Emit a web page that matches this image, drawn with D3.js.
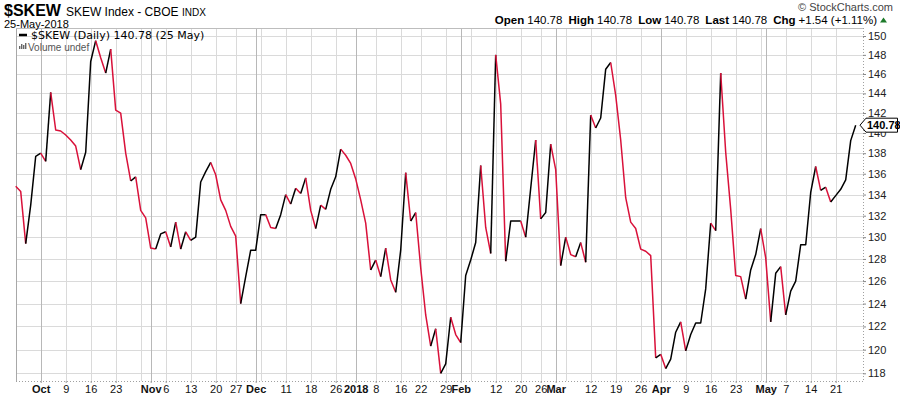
<!DOCTYPE html>
<html>
<head>
<meta charset="utf-8">
<script src="https://cdn.jsdelivr.net/npm/d3@7/dist/d3.min.js"></script>
<style>
  body { margin: 0; background: #fff; }
  svg { display: block; }
</style>
</head>
<body>
<svg id="chart"></svg>
<script>
// trading calendar
const firstDay = "2017-09-25";
const lastDay = "2018-05-25";
const holidays = ["2017-11-23", "2017-12-25", "2018-01-01", "2018-01-15", "2018-02-19", "2018-03-30"];

// $SKEW daily close
const skewValues = [
  134.8, 134.3, 129.4, 133.0, 137.7,
  138.0, 137.2, 144.1, 140.3, 140.2,
  139.8, 139.3, 138.7, 136.4, 138.1,
  147.3, 149.5, 147.7, 146.1, 148.6,
  142.3, 142.0, 138.0, 135.3, 135.7,
  132.5, 131.8, 129.0, 128.9, 130.3,
  130.5, 129.1, 131.4, 128.9, 130.5,
  129.7, 130.0, 135.2, 136.2, 137.1,
  135.9, 133.5, 132.5, 131.0,
  130.1, 124.0, 126.4, 128.8, 128.8,
  132.1, 132.1, 130.9, 130.8, 132.1,
  134.0, 133.1, 134.6, 134.1, 135.6,
  132.5, 130.8, 133.0, 132.6, 134.5,
  135.7, 138.4, 137.8, 137.0,
  135.5, 133.5, 131.3, 127.0,
  127.9, 126.4, 129.0, 126.1, 125.0,
  128.8, 136.1, 131.5, 132.3,
  127.2, 123.0, 120.3, 121.8, 118.0,
  118.8, 122.8, 121.3, 120.6, 126.5,
  127.9, 129.5, 136.8, 130.9, 128.5,
  148.0, 142.9, 127.8, 131.5, 131.5,
  131.5, 130.0, 134.6, 139.3,
  131.7, 132.3, 138.9, 136.4, 127.4,
  130.0, 128.4, 128.2, 129.5, 127.7,
  141.8, 140.5, 141.5, 146.5, 147.2,
  143.8, 139.3, 133.7, 131.4, 130.8,
  128.9, 128.7, 128.3, 119.3,
  119.6, 118.4, 119.2, 121.5, 122.4,
  119.9, 121.3, 122.3, 122.3, 125.3,
  131.3, 130.6, 146.1, 138.1, 132.6,
  126.5, 126.4, 124.4, 127.0, 128.4,
  130.8, 128.1, 122.4, 126.7, 127.3,
  123.0, 125.1, 126.0, 129.3, 129.3,
  134.2, 136.7, 134.4, 134.7, 133.3,
  133.9, 134.5, 135.4, 139.24, 140.78
];

const yTickValues = [118, 120, 122, 124, 126, 128, 130, 132, 134, 136, 138, 140, 142, 144, 146, 148, 150];

const xTickDates = [
  "2017-10-02", "2017-10-09", "2017-10-16", "2017-10-23", "2017-11-01", "2017-11-06", "2017-11-13",
  "2017-11-20", "2017-11-27", "2017-12-01", "2017-12-11", "2017-12-18", "2017-12-26", "2018-01-02",
  "2018-01-08", "2018-01-16", "2018-01-22", "2018-01-29", "2018-02-01", "2018-02-12", "2018-02-20",
  "2018-02-26", "2018-03-01", "2018-03-12", "2018-03-19", "2018-03-26", "2018-04-02", "2018-04-09",
  "2018-04-16", "2018-04-23", "2018-05-01", "2018-05-07", "2018-05-14", "2018-05-21"
];
const xTickLabels = [
  "Oct", "9", "16", "23", "Nov", "6", "13", "20", "27", "Dec", "11", "18", "26", "2018",
  "8", "16", "22", "29", "Feb", "12", "20", "26", "Mar", "12", "19", "26", "Apr", "9",
  "16", "23", "May", "7", "14", "21"
];

const width = 900, height = 396;
const plot = { left: 16, right: 863, top: 28, bottom: 381 };
const upColor = "#000000", downColor = "#d9113a";
const sans = "'Liberation Sans', Arial, sans-serif";
const verdana = "'DejaVu Sans', Verdana, sans-serif";

const fmt = d3.utcFormat("%Y-%m-%d");
const tradingDays = d3.utcDay
  .range(new Date(firstDay + "T00:00:00Z"), d3.utcDay.offset(new Date(lastDay + "T00:00:00Z"), 1))
  .filter(d => d.getUTCDay() % 6 !== 0 && !holidays.includes(fmt(d)));
const dayKeys = tradingDays.map(fmt);

const data = dayKeys.map((k, i) => ({ key: k, date: tradingDays[i], value: skewValues[i] }));

const svg = d3.select("#chart").attr("width", width).attr("height", height);

const x = d3.scalePoint().domain(dayKeys).range([15.7, 855.7]);
const y = d3.scaleLog().domain([118, 150]).range([373.3, 36]);

// grid
const grid = svg.append("g");
grid.selectAll("line.h")
  .data(yTickValues)
  .enter()
  .append("line")
  .attr("x1", plot.left).attr("x2", plot.right)
  .attr("y1", d => Math.round(y(d)) + 0.5).attr("y2", d => Math.round(y(d)) + 0.5)
  .attr("stroke", "#dadada");

// weekly and monthly vertical lines
const vLines = data.filter((d, i) => i > 0 && (
  d.date.getUTCDay() < data[i - 1].date.getUTCDay() ||
  d.date.getUTCMonth() !== data[i - 1].date.getUTCMonth()
)).map(d => {
  const idx = dayKeys.indexOf(d.key);
  return { key: d.key, month: d.date.getUTCMonth() !== data[idx - 1].date.getUTCMonth() };
});

grid.selectAll("line.v")
  .data(vLines)
  .enter()
  .append("line")
  .attr("x1", d => Math.round(x(d.key)) + 0.5).attr("x2", d => Math.round(x(d.key)) + 0.5)
  .attr("y1", plot.top).attr("y2", plot.bottom)
  .attr("stroke", d => d.month ? "#b8b8b8" : "#dadada");

// frame
svg.append("line")
  .attr("x1", plot.left + 0.5).attr("x2", plot.left + 0.5)
  .attr("y1", plot.top).attr("y2", plot.bottom)
  .attr("stroke", "#a8a8a8");
svg.append("line")
  .attr("x1", plot.left).attr("x2", plot.right)
  .attr("y1", plot.top + 0.5).attr("y2", plot.top + 0.5)
  .attr("stroke", "#bdbdbd");
svg.append("line")
  .attr("x1", plot.right + 0.5).attr("x2", plot.right + 0.5)
  .attr("y1", plot.top).attr("y2", plot.bottom)
  .attr("stroke", "#a0a0a0")
  .attr("stroke-dasharray", "1,2");
svg.append("line")
  .attr("x1", plot.left).attr("x2", plot.right)
  .attr("y1", plot.bottom + 0.5).attr("y2", plot.bottom + 0.5)
  .attr("stroke", "#a0a0a0")
  .attr("stroke-dasharray", "1,2");

// y axis on the right
const yAxis = svg.append("g")
  .attr("transform", `translate(${plot.right},0)`)
  .call(d3.axisRight(y).tickValues(yTickValues).tickFormat(d3.format("d")).tickSize(3).tickPadding(2));
yAxis.select(".domain").remove();
yAxis.selectAll(".tick line").attr("stroke", "#888");
yAxis.selectAll(".tick text")
  .attr("font-family", sans)
  .attr("font-size", 11)
  .attr("fill", "#222");

// x axis
const xAxis = svg.append("g")
  .attr("transform", `translate(0,${plot.bottom})`)
  .call(d3.axisBottom(x).tickValues(xTickDates).tickFormat((d, i) => xTickLabels[i]).tickSize(2).tickPadding(2));
xAxis.select(".domain").remove();
xAxis.selectAll(".tick line").attr("stroke", "#999");
xAxis.selectAll(".tick text")
  .attr("font-family", sans)
  .attr("font-size", 11)
  .attr("fill", "#111")
  .attr("font-weight", (d, i) => isNaN(+xTickLabels[i]) || xTickLabels[i] === "2018" ? "bold" : "normal");

// price line, black on up days, red on down days
const runs = [];
for (let i = 1; i < data.length; i++) {
  const up = data[i].value >= data[i - 1].value;
  const last = runs[runs.length - 1];
  if (last && last.up === up) last.pts.push(data[i]);
  else runs.push({ up: up, pts: [data[i - 1], data[i]] });
}
const line = d3.line().x(d => x(d.key)).y(d => y(d.value));
svg.append("g")
  .selectAll("path")
  .data(runs)
  .enter()
  .append("path")
  .attr("d", d => line(d.pts))
  .attr("fill", "none")
  .attr("stroke", d => d.up ? upColor : downColor)
  .attr("stroke-width", 1.5)
  .attr("stroke-linejoin", "round");

// last value tag, drawn over the 140 label as in the original
const lastPt = data[data.length - 1];
const ty = y(lastPt.value);
svg.append("path")
  .attr("d", `M${plot.right - 3},${ty} L${plot.right + 3},${ty - 7} L897.5,${ty - 7} L897.5,${ty + 7} L${plot.right + 3},${ty + 7} Z`)
  .attr("fill", "#fff")
  .attr("stroke", "#000");
svg.append("text")
  .attr("x", plot.right + 4).attr("y", ty + 4)
  .attr("font-family", sans).attr("font-size", 11).attr("font-weight", "bold")
  .text(d3.format(".2f")(lastPt.value));

// legend inside plot
svg.append("line")
  .attr("x1", 19).attr("x2", 27).attr("y1", 35).attr("y2", 35)
  .attr("stroke", "#000").attr("stroke-width", 2.5);
svg.append("text")
  .attr("x", 31).attr("y", 39)
  .attr("font-family", verdana).attr("font-size", 11).attr("fill", "#000")
  .text(`$SKEW (Daily) ${d3.format(".2f")(lastPt.value)} (25 May)`);
const volIcon = svg.append("g").attr("fill", "#666");
[[19, 46, 3], [21, 44, 5], [23, 45, 4], [25, 43, 6]].forEach(b => {
  volIcon.append("rect").attr("x", b[0]).attr("y", b[1]).attr("width", 1.4).attr("height", b[2]);
});
svg.append("text")
  .attr("x", 28).attr("y", 50.5)
  .attr("font-family", sans).attr("font-size", 10).attr("fill", "#555")
  .text("Volume undef");

// header
const title = svg.append("text").attr("x", 4).attr("y", 16).attr("font-family", sans);
title.append("tspan").attr("font-size", 16).attr("font-weight", "bold").text("$SKEW");
title.append("tspan").attr("font-size", 12).attr("dx", 5).text("SKEW Index - CBOE ");
title.append("tspan").attr("font-size", 10).text("INDX");

svg.append("text")
  .attr("x", 4).attr("y", 28)
  .attr("font-family", sans).attr("font-size", 11).attr("fill", "#000")
  .text("25-May-2018");

svg.append("text")
  .attr("x", 893).attr("y", 11)
  .attr("text-anchor", "end")
  .attr("font-family", sans).attr("font-size", 11).attr("fill", "#444")
  .text("\u00A9 StockCharts.com");

const ohlc = svg.append("text")
  .attr("x", 877).attr("y", 24)
  .attr("text-anchor", "end")
  .attr("font-family", sans).attr("font-size", 11.5).attr("fill", "#000");
[["Open", "140.78"], ["High", "140.78"], ["Low", "140.78"], ["Last", "140.78"], ["Chg", "+1.54 (+1.11%)"]]
  .forEach((p, i) => {
    ohlc.append("tspan").attr("font-weight", "bold").attr("dx", i ? 6 : 0).text(p[0]);
    ohlc.append("tspan").attr("dx", 3).text(p[1]);
  });
svg.append("path")
  .attr("d", "M880,22.5 L887,22.5 L883.5,17.5 Z")
  .attr("fill", "#1d7a2a");
</script>
</body>
</html>
